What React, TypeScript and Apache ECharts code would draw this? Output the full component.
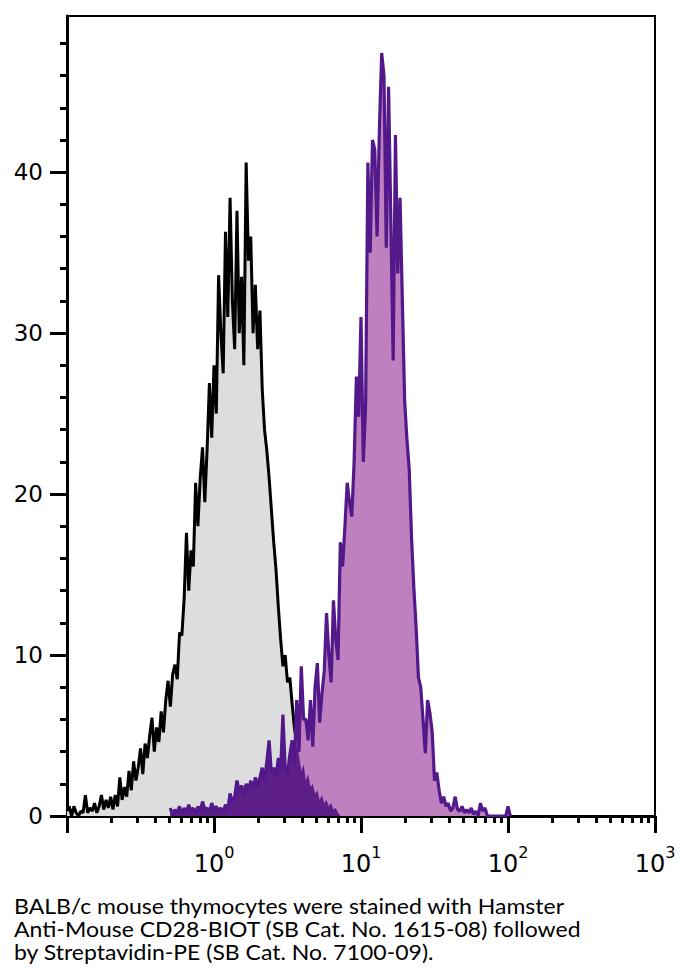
import React, { useEffect, useRef } from "react";
import * as echarts from "echarts";

// Histogram channels: 64 channels per decade, channel 0 at 10^-1
const CHANNELS_PER_DECADE = 64;
const X_MIN_EXP = -1;
const X_MAX_EXP = 3;

// Unstained / control (grey fill, black line), starts at channel 0
const GRAY_START = 0;
const grayCounts = [
  0.3, 0.6, 0, 0.6, 0.2, 0, 0.3, 0.2, 1.3, 0.2,
  0.5, 0.3, 0.8, 0.2, 0.6, 1.3, 0.4, 1.0, 0.5, 1.2,
  0.4, 1.3, 0.6, 2.4, 1.0, 1.8, 1.2, 2.8, 1.6, 3.4,
  2.2, 3.0, 4.2, 2.6, 4.5, 3.6, 5.0, 6.1, 4.0, 5.5,
  4.6, 6.5, 5.2, 7.2, 8.4, 6.8, 8.8, 9.4, 8.5, 11.4,
  11.2, 13.5, 17.6, 14.0, 16.5, 15.5, 20.7, 18.0, 21.0, 22.9,
  19.5, 22.8, 26.9, 23.5, 28.0, 25.0, 33.6, 30.0, 27.5, 36.3,
  31.0, 38.4, 32.0, 29.0, 37.6, 30.0, 33.5, 28.0, 40.6, 34.5,
  36.0, 30.0, 33.0, 29.0, 31.4, 26.5, 24.0, 22.7, 21.0, 19.0,
  17.0, 15.3, 13.0, 11.0, 9.3, 10.0, 8.3, 8.6, 7.0, 5.5,
  4.5, 3.8, 2.8, 3.2, 2.2, 2.6, 1.8, 2.0, 1.4, 1.6,
  1.0, 1.3, 0.8, 1.0, 0.6, 0.8, 0.4, 0.5, 0.2, 0,
];

// CD28 stained (purple), starts at channel 45
const PURPLE_START = 45;
const purpleCounts = [
  0.5, 0, 0.4, 0.2, 0.6, 0.1, 0.5, 0.2, 0.7, 0.3,
  0.5, 0.1, 0.6, 0.3, 0.9, 0.4, 0.5, 0.2, 0.8, 0.4,
  0.6, 0.3, 0.5, 0.2, 0.7, 0.4, 1.4, 0.8, 1.2, 2.2,
  1.5, 1.9, 1.3, 2.0, 1.6, 2.2, 1.6, 2.4, 1.8, 2.4,
  3.0, 2.2, 3.4, 4.7, 2.6, 3.0, 2.4, 3.6, 2.8, 6.3,
  3.0, 2.6, 3.8, 4.7, 3.2, 7.2, 4.0, 9.3, 6.0, 6.0,
  4.7, 7.2, 4.3, 8.0, 9.5, 5.8, 7.6, 9.0, 12.6, 10.0,
  8.3, 13.4, 11.0, 9.7, 17.0, 15.5, 18.0, 20.7, 19.5, 18.6,
  22.0, 27.3, 24.8, 31.0, 22.0, 25.4, 40.6, 35.0, 42.0, 41.4,
  36.0, 42.6, 47.4, 46.0, 35.3, 45.3, 37.0, 28.3, 42.3, 33.7,
  38.4, 32.0, 25.8, 23.4, 21.5, 17.3, 14.2, 11.7, 8.6, 8.0,
  6.0, 3.9, 7.2, 6.4, 5.2, 2.2, 2.7, 1.6, 0.8, 1.2,
  0.6, 0.8, 0.3, 0.5, 1.2, 0.4, 0.3, 0.6, 0.2, 0.4,
  0.2, 0.5, 0.1, 0.3, 0, 0.8, 0.3, 0.5, 0, 0,
  0, 0, 0, 0, 0, 0, 0, 0.6, 0,
];

const yMajorTicks = [0, 10, 20, 30, 40];
const yMinorTicks = [2, 4, 6, 8, 12, 14, 16, 18, 22, 24, 26, 28, 32, 34, 36, 38, 42, 44, 46, 48];
const Y_MAX = 49.7;
const xLabelExponents = [0, 1, 2, 3];
const minorMultipliers = [2, 3, 4, 5, 6, 7, 8, 9];

const captionLines = [
  "BALB/c mouse thymocytes were stained with Hamster",
  "Anti-Mouse CD28-BIOT (SB Cat. No. 1615-08) followed",
  "by Streptavidin-PE (SB Cat. No. 7100-09).",
];

const chExp = (c: number) => X_MIN_EXP + c / CHANNELS_PER_DECADE;

export default function App() {
  const ref = useRef<HTMLDivElement>(null);
  useEffect(() => {
    if (!ref.current) return;
    const chart = echarts.init(ref.current, null, { renderer: "svg" });

    const grayData = grayCounts.map((v, i) => [chExp(GRAY_START + i), v]);
    const purpleData = purpleCounts.map((v, i) => [chExp(PURPLE_START + i), v]);
    const overlapData = purpleCounts.map((v, i) => {
      const c = PURPLE_START + i;
      const gi = c - GRAY_START;
      const g = gi >= 0 && gi < grayCounts.length ? grayCounts[gi] : 0;
      return [chExp(c), Math.min(v, g)];
    });

    const minorX: number[] = [];
    for (let d = X_MIN_EXP; d < X_MAX_EXP; d++) {
      minorMultipliers.forEach((m) => minorX.push(d + Math.log10(m)));
    }

    const axisFont = "DejaVu Sans";
    const option: any = {
      animation: false,
      grid: {
        left: 67,
        right: 32,
        top: 16,
        bottom: 162,
        show: true,
        borderColor: "#000",
        borderWidth: 2,
        backgroundColor: "transparent",
      },
      xAxis: [
        {
          type: "value",
          min: X_MIN_EXP,
          max: X_MAX_EXP,
          interval: 1,
          axisLine: { show: true, onZero: false, lineStyle: { color: "#000", width: 3 } },
          axisTick: { show: true, length: 17, lineStyle: { color: "#000", width: 3 } },
          splitLine: { show: false },
          axisLabel: {
            margin: 28,
            color: "#000",
            customValues: xLabelExponents,
            formatter: (v: number) => `{b|10}{s|${v}}`,
            rich: {
              b: { fontFamily: axisFont, fontSize: 24, color: "#000", padding: [8, 0, 0, 0] },
              s: { fontFamily: axisFont, fontSize: 16, color: "#000", verticalAlign: "top" },
            },
          },
        },
        {
          type: "value",
          min: X_MIN_EXP,
          max: X_MAX_EXP,
          position: "bottom",
          axisLine: { show: false, onZero: false },
          axisTick: { show: true, length: 7, customValues: minorX, lineStyle: { color: "#000", width: 3 } },
          axisLabel: { show: false },
          splitLine: { show: false },
        },
      ],
      yAxis: [
        {
          type: "value",
          min: 0,
          max: Y_MAX,
          axisLine: { show: true, onZero: false, lineStyle: { color: "#000", width: 3 } },
          axisTick: { show: true, length: 17, customValues: yMajorTicks, lineStyle: { color: "#000", width: 3 } },
          splitLine: { show: false },
          axisLabel: {
            customValues: yMajorTicks,
            margin: 24,
            fontFamily: axisFont,
            fontSize: 23,
            color: "#000",
          },
        },
        {
          type: "value",
          min: 0,
          max: Y_MAX,
          position: "left",
          axisLine: { show: false, onZero: false },
          axisTick: { show: true, length: 7, customValues: yMinorTicks, lineStyle: { color: "#000", width: 3 } },
          axisLabel: { show: false },
          splitLine: { show: false },
        },
      ],
      series: [
        {
          name: "Control",
          type: "line",
          data: grayData,
          symbol: "none",
          lineStyle: { color: "#000", width: 3 },
          areaStyle: { color: "#dddddd", opacity: 1 },
          z: 2,
        },
        {
          name: "CD28",
          type: "line",
          data: purpleData,
          symbol: "none",
          lineStyle: { width: 0, opacity: 0 },
          areaStyle: { color: "#bf80bf", opacity: 1 },
          z: 3,
        },
        {
          name: "Overlap",
          type: "line",
          data: overlapData,
          symbol: "none",
          lineStyle: { width: 0, opacity: 0 },
          areaStyle: { color: "#5c1f88", opacity: 1 },
          z: 4,
        },
        {
          name: "CD28 outline",
          type: "line",
          data: purpleData,
          symbol: "none",
          lineStyle: { color: "#53198a", width: 3.2 },
          z: 5,
        },
      ],
      graphic: captionLines.map((t, i) => ({
        type: "text",
        left: 14,
        top: 895 + i * 23,
        scaleX: 1.095,
        style: { text: t, font: "21px Lato", fill: "#000" },
      })),
    };
    chart.setOption(option);
    return () => chart.dispose();
  }, []);
  return (
    <div
      ref={ref}
      style={{ position: "fixed", left: 0, top: 0, width: 687, height: 978, background: "#fff" }}
    />
  );
}
